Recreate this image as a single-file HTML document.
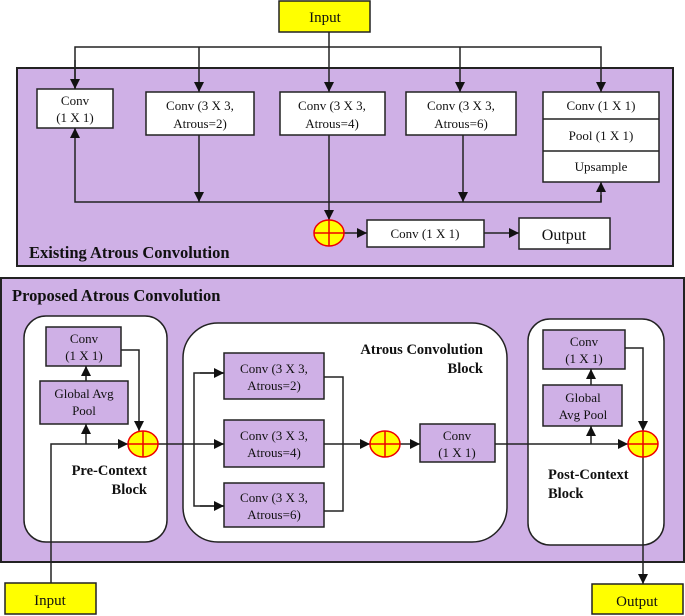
<!DOCTYPE html>
<html><head><meta charset="utf-8"><style>
html,body{margin:0;padding:0;background:#fff}
svg{display:block}
text{font-family:"Liberation Serif",serif;font-size:13px;fill:#111}
.b{font-weight:bold;font-size:14.5px}
.t{font-weight:bold;font-size:16.5px}
</style></head><body>
<svg width="685" height="616" viewBox="0 0 685 616" xmlns="http://www.w3.org/2000/svg">
<defs>
<marker id="A" viewBox="0 0 10 10" refX="10" refY="5" markerWidth="10" markerHeight="10" orient="auto" markerUnits="userSpaceOnUse"><path d="M0,0L10,5L0,10z" fill="#111"/></marker>
</defs>
<g stroke="#222" stroke-width="1.5" fill="none">
<rect x="17" y="68" width="656" height="198" fill="#cfb0e6" stroke-width="2"/>
<rect x="279" y="1" width="91" height="31" fill="#ffff00"/>
<line x1="329" y1="32" x2="329" y2="47"/>
<polyline points="75,89 75,47 601,47 601,92" marker-end="url(#A)"/>
<line x1="199" y1="47" x2="199" y2="92" marker-end="url(#A)"/>
<line x1="329" y1="47" x2="329" y2="92" marker-end="url(#A)"/>
<line x1="460" y1="47" x2="460" y2="92" marker-end="url(#A)"/>
<line x1="75" y1="60" x2="75" y2="89" marker-end="url(#A)"/>
<rect x="37" y="89" width="76" height="39" fill="#fff"/>
<rect x="146" y="92" width="108" height="43" fill="#fff"/>
<rect x="280" y="92" width="105" height="43" fill="#fff"/>
<rect x="406" y="92" width="110" height="43" fill="#fff"/>
<rect x="543" y="92" width="116" height="90" fill="#fff"/>
<line x1="543" y1="119" x2="659" y2="119"/>
<line x1="543" y1="151" x2="659" y2="151"/>
<polyline points="75,150 75,202 601,202 601,195"/>
<line x1="75" y1="150" x2="75" y2="128" marker-end="url(#A)"/>
<line x1="601" y1="202" x2="601" y2="182" marker-end="url(#A)"/>
<line x1="199" y1="135" x2="199" y2="202" marker-end="url(#A)"/>
<line x1="463" y1="135" x2="463" y2="202" marker-end="url(#A)"/>
<line x1="329" y1="135" x2="329" y2="220" marker-end="url(#A)"/>
<line x1="344" y1="233" x2="367" y2="233" marker-end="url(#A)"/>
<rect x="367" y="220" width="117" height="27" fill="#fff"/>
<line x1="484" y1="233" x2="519" y2="233" marker-end="url(#A)"/>
<rect x="519" y="218" width="91" height="31" fill="#fff"/>
<rect x="1" y="278" width="683" height="284" fill="#cfb0e6" stroke-width="2"/>
<rect x="24" y="316" width="143" height="226" rx="22" fill="#fff"/>
<rect x="183" y="323" width="324" height="219" rx="35" fill="#fff"/>
<rect x="528" y="319" width="136" height="226" rx="22" fill="#fff"/>
<rect x="46" y="327" width="75" height="39" fill="#cfb0e6"/>
<rect x="40" y="381" width="88" height="43" fill="#cfb0e6"/>
<rect x="224" y="353" width="100" height="46" fill="#cfb0e6"/>
<rect x="224" y="420" width="100" height="47" fill="#cfb0e6"/>
<rect x="224" y="483" width="100" height="44" fill="#cfb0e6"/>
<rect x="420" y="424" width="75" height="38" fill="#cfb0e6"/>
<rect x="543" y="330" width="82" height="39" fill="#cfb0e6"/>
<rect x="543" y="385" width="79" height="41" fill="#cfb0e6"/>
<rect x="5" y="583" width="91" height="31" fill="#ffff00"/>
<rect x="592" y="584" width="91" height="30" fill="#ffff00"/>
<polyline points="51,583 51,444 128,444" marker-end="url(#A)"/>
<line x1="86" y1="444" x2="86" y2="424" marker-end="url(#A)"/>
<line x1="86" y1="381" x2="86" y2="366" marker-end="url(#A)"/>
<polyline points="121,350 139,350 139,431" marker-end="url(#A)"/>
<line x1="158" y1="444" x2="224" y2="444" marker-end="url(#A)"/>
<polyline points="224,373 194,373 194,506 224,506"/>
<line x1="200" y1="373" x2="224" y2="373" marker-end="url(#A)"/>
<line x1="200" y1="506" x2="224" y2="506" marker-end="url(#A)"/>
<polyline points="324,377 343,377 343,511 324,511"/>
<line x1="324" y1="444" x2="370" y2="444" marker-end="url(#A)"/>
<line x1="400" y1="444" x2="420" y2="444" marker-end="url(#A)"/>
<line x1="495" y1="444" x2="628" y2="444" marker-end="url(#A)"/>
<line x1="591" y1="444" x2="591" y2="426" marker-end="url(#A)"/>
<line x1="591" y1="385" x2="591" y2="369" marker-end="url(#A)"/>
<polyline points="625,348 643,348 643,431" marker-end="url(#A)"/>
<line x1="643" y1="457" x2="643" y2="584" marker-end="url(#A)"/>
</g>
<g stroke="#e00" stroke-width="1.5" fill="#ffff00">
<ellipse cx="329" cy="233" rx="15" ry="13"/><path d="M314,233H344M329,220V246"/>
<ellipse cx="143" cy="444" rx="15" ry="13"/><path d="M128,444H158M143,431V457"/>
<ellipse cx="385" cy="444" rx="15" ry="13"/><path d="M370,444H400M385,431V457"/>
<ellipse cx="643" cy="444" rx="15" ry="13"/><path d="M628,444H658M643,431V457"/>
</g>
<g text-anchor="middle">
<text x="325" y="22" style="font-size:15px">Input</text>
<text x="75" y="105">Conv</text><text x="75" y="122">(1 X 1)</text>
<text x="200" y="110">Conv (3 X 3,</text><text x="200" y="128">Atrous=2)</text>
<text x="332" y="110">Conv (3 X 3,</text><text x="332" y="128">Atrous=4)</text>
<text x="461" y="110">Conv (3 X 3,</text><text x="461" y="128">Atrous=6)</text>
<text x="601" y="110">Conv (1 X 1)</text>
<text x="601" y="140">Pool (1 X 1)</text>
<text x="601" y="171">Upsample</text>
<text x="425" y="238">Conv (1 X 1)</text>
<text x="564" y="240" style="font-size:16px">Output</text>
<text x="84" y="343">Conv</text><text x="84" y="360">(1 X 1)</text>
<text x="84" y="398">Global Avg</text><text x="84" y="415">Pool</text>
<text x="274" y="373">Conv (3 X 3,</text><text x="274" y="390">Atrous=2)</text>
<text x="274" y="440">Conv (3 X 3,</text><text x="274" y="457">Atrous=4)</text>
<text x="274" y="502">Conv (3 X 3,</text><text x="274" y="519">Atrous=6)</text>
<text x="457" y="440">Conv</text><text x="457" y="457">(1 X 1)</text>
<text x="584" y="346">Conv</text><text x="584" y="363">(1 X 1)</text>
<text x="583" y="402">Global</text><text x="583" y="419">Avg Pool</text>
<text x="50" y="605" style="font-size:15px">Input</text>
<text x="637" y="606" style="font-size:15px">Output</text>
</g>
<text class="t" x="29" y="258">Existing Atrous Convolution</text>
<text class="t" x="12" y="301">Proposed Atrous Convolution</text>
<g text-anchor="end"><text class="b" x="147" y="475">Pre-Context</text><text class="b" x="147" y="494">Block</text>
<text class="b" x="483" y="354">Atrous Convolution</text><text class="b" x="483" y="373">Block</text></g>
<text class="b" x="548" y="479">Post-Context</text><text class="b" x="548" y="498">Block</text>
</svg>
</body></html>
